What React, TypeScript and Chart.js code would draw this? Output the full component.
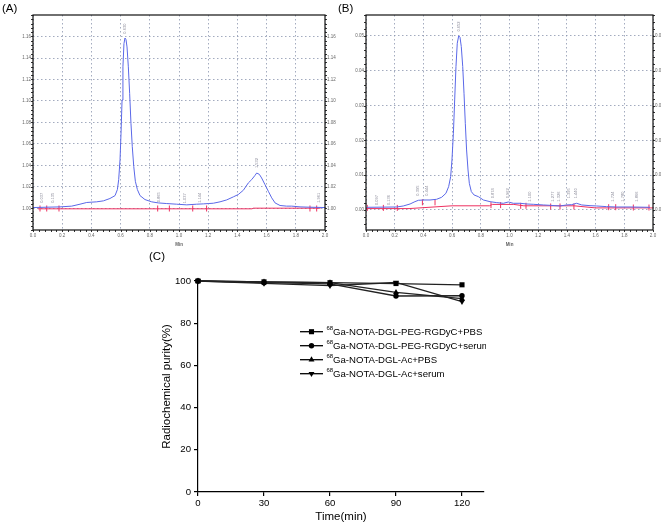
import React, { useEffect, useRef } from 'react';
import { Chart, registerables } from 'chart.js';

Chart.register(...registerables);

const FONT = '"Liberation Sans", Arial, Helvetica, sans-serif';

// ---------------- Panel A : chromatogram ----------------
const aTime = [0.002, 0.185, 0.265, 0.322, 0.368, 0.436, 0.482, 0.527, 0.562, 0.578, 0.587, 0.596, 0.603, 0.61, 0.616, 0.623, 0.63, 0.637, 0.644, 0.653, 0.662, 0.671, 0.68, 0.69, 0.701, 0.715, 0.733, 0.767, 0.813, 0.858, 0.916, 0.984, 1.053, 1.121, 1.167, 1.201, 1.235, 1.281, 1.327, 1.372, 1.406, 1.441, 1.475, 1.498, 1.521, 1.532, 1.55, 1.566, 1.589, 1.612, 1.635, 1.658, 1.692, 1.737, 1.772, 1.829, 1.897, 2.0];
const aSignal = [1.0009, 1.0015, 1.0022, 1.004, 1.0056, 1.0062, 1.0071, 1.0093, 1.012, 1.0176, 1.0269, 1.0454, 1.0701, 1.1009, 1.1318, 1.1534, 1.1586, 1.1571, 1.1503, 1.1318, 1.1071, 1.0793, 1.0577, 1.0392, 1.0253, 1.0176, 1.012, 1.0083, 1.0062, 1.0052, 1.0046, 1.004, 1.0034, 1.004, 1.0043, 1.0046, 1.0049, 1.0062, 1.008, 1.0108, 1.013, 1.017, 1.0238, 1.0269, 1.0309, 1.033, 1.0318, 1.0284, 1.0222, 1.016, 1.0099, 1.0052, 1.0028, 1.0022, 1.0022, 1.0015, 1.0012, 1.0009];
const aBaseTime = [0.034, 1.5, 1.51, 1.97];
const aBaseSignal = [0.9997, 0.9997, 1.0003, 1.0003];
const aMarkTime = [0.048, 0.094, 0.178, 0.854, 0.934, 1.094, 1.189, 1.897, 1.943];
const aMarkSignal = [1.0, 1.0, 1.0, 1.0, 1.0, 1.0, 1.0, 1.0, 1.0];
const aPeakTime = [0.059, 0.139, 0.63, 0.865, 1.037, 1.144, 1.532, 1.961];
const aPeakLevel = [1.0099, 1.0099, 1.1673, 1.0105, 1.0095, 1.0099, 1.0423, 1.0099];
const aPeakText = ['0.037', '0.135', '0.630', '0.865', '1.037', '1.144', '1.532', '1.961'];
const aYTicks = [1.0, 1.02, 1.04, 1.06, 1.08, 1.1, 1.12, 1.14, 1.16];
const aXTicks = [0, 0.2, 0.4, 0.6, 0.8, 1.0, 1.2, 1.4, 1.6, 1.8, 2.0];

// ---------------- Panel B : chromatogram ----------------
const bTime = [0.005, 0.214, 0.26, 0.307, 0.341, 0.365, 0.4, 0.446, 0.492, 0.527, 0.557, 0.576, 0.59, 0.599, 0.609, 0.618, 0.627, 0.636, 0.646, 0.655, 0.664, 0.674, 0.683, 0.692, 0.701, 0.711, 0.72, 0.734, 0.753, 0.783, 0.818, 0.864, 0.911, 0.957, 0.992, 1.027, 1.073, 1.12, 1.166, 1.236, 1.282, 1.352, 1.398, 1.433, 1.468, 1.503, 1.561, 1.607, 1.677, 1.747, 1.84, 1.979];
const bSignal = [0.00077, 0.00086, 0.00115, 0.00172, 0.00239, 0.00278, 0.00287, 0.00287, 0.00307, 0.00364, 0.00479, 0.0067, 0.00958, 0.01437, 0.02203, 0.03161, 0.04119, 0.04789, 0.05, 0.04962, 0.04693, 0.04119, 0.03353, 0.0249, 0.01724, 0.01149, 0.00766, 0.00527, 0.00431, 0.00383, 0.00287, 0.00239, 0.00211, 0.00192, 0.0023, 0.00192, 0.00192, 0.00172, 0.00163, 0.00144, 0.00134, 0.00115, 0.00144, 0.00153, 0.00192, 0.00144, 0.00124, 0.00115, 0.00096, 0.00086, 0.00086, 0.00077];
const bBaseTime = [0.0, 0.3, 0.6, 0.86, 0.88, 1.03, 1.1, 1.45, 1.6, 2.0];
const bBaseSignal = [0.0004, 0.0004, 0.0012, 0.0012, 0.0016, 0.0016, 0.0012, 0.0012, 0.0006, 0.0006];
const bMarkTime = [0.009, 0.121, 0.218, 0.393, 0.481, 0.871, 0.938, 1.078, 1.115, 1.287, 1.352, 1.449, 1.691, 1.74, 1.863, 1.972];
const bMarkSignal = [0.0006, 0.0006, 0.0006, 0.0022, 0.0022, 0.0014, 0.0014, 0.0012, 0.0012, 0.001, 0.001, 0.001, 0.0008, 0.0008, 0.0007, 0.0007];
const bPeakTime = [0.074, 0.163, 0.365, 0.423, 0.65, 0.887, 0.987, 1.143, 1.301, 1.347, 1.417, 1.463, 1.719, 1.789, 1.886];
const bPeakLevel = [0.00287, 0.00287, 0.00556, 0.00556, 0.0527, 0.00479, 0.00479, 0.00383, 0.00383, 0.00383, 0.00479, 0.00479, 0.00383, 0.00383, 0.00383];
const bPeakText = ['0.097', '0.136', '0.395', '0.444', '0.652', '0.874', '0.962', '1.100', '1.277', '1.326', '1.395', '1.440', '1.724', '1.780', '1.866'];
const bYTicks = [0.0, 0.01, 0.02, 0.03, 0.04, 0.05];
const bXTicks = [0, 0.2, 0.4, 0.6, 0.8, 1.0, 1.2, 1.4, 1.6, 1.8, 2.0];

// ---------------- Panel C : stability ----------------
const cTime = [0, 30, 60, 90, 120];
const cRgdPbs = [100, 99.6, 99.2, 98.8, 98.2];
const cRgdSerum = [100, 99.2, 98.6, 92.9, 93.0];
const cAcPbs = [100, 99.6, 99.2, 94.6, 91.6];
const cAcSerum = [100, 98.9, 97.8, 99.3, 90.2];
const cIsotope = '68';
const cLegend = ['Ga-NOTA-DGL-PEG-RGDyC+PBS', 'Ga-NOTA-DGL-PEG-RGDyC+serum', 'Ga-NOTA-DGL-Ac+PBS', 'Ga-NOTA-DGL-Ac+serum'];
const cYTicks = [0, 20, 40, 60, 80, 100];
const cXTicks = [0, 30, 60, 90, 120];

type Pt = { x: number; y: number };
const zip = (xs: number[], ys: number[]): Pt[] => xs.map((x, i) => ({ x, y: ys[i] }));

const BLUE = '#5a68e8';
const RED = '#ee3060';
const GRID = 'rgba(140,150,175,0.8)';

function framePlugin(xMinor: number, yMinor: number) {
  return {
    id: 'frame',
    afterDatasetsDraw(chart: any) {
      const { ctx, chartArea } = chart;
      const { left, top, right, bottom } = chartArea;
      const xs = chart.scales.x;
      const ys = chart.scales.y;
      ctx.save();
      ctx.strokeStyle = '#333';
      ctx.lineWidth = 1;
      ctx.beginPath();
      const x0 = Math.ceil(xs.min / xMinor - 1e-6) * xMinor;
      for (let v = x0; v <= xs.max + 1e-9; v += xMinor) {
        const p = Math.round(xs.getPixelForValue(v)) + 0.5;
        ctx.moveTo(p, bottom);
        ctx.lineTo(p, bottom + 2);
      }
      const y0 = Math.ceil(ys.min / yMinor - 1e-6) * yMinor;
      for (let v = y0; v <= ys.max + 1e-12; v += yMinor) {
        const p = Math.round(ys.getPixelForValue(v)) + 0.5;
        ctx.moveTo(left, p);
        ctx.lineTo(left - 2, p);
        ctx.moveTo(right, p);
        ctx.lineTo(right + 2, p);
      }
      ctx.stroke();
      ctx.strokeStyle = '#111';
      ctx.lineWidth = 1.2;
      ctx.strokeRect(left, top, right - left, bottom - top);
      ctx.restore();
    },
  };
}

function peakTextPlugin(times: number[], levels: number[], texts: string[]) {
  return {
    id: 'peakText',
    afterDatasetsDraw(chart: any) {
      const { ctx } = chart;
      const xs = chart.scales.x;
      const ys = chart.scales.y;
      ctx.save();
      ctx.fillStyle = '#8a8a99';
      ctx.font = `4px ${FONT}`;
      ctx.textAlign = 'center';
      ctx.textBaseline = 'middle';
      times.forEach((t, i) => {
        ctx.save();
        ctx.translate(xs.getPixelForValue(t), ys.getPixelForValue(levels[i]));
        ctx.rotate(-Math.PI / 2);
        ctx.fillText(texts[i], 0, 0);
        ctx.restore();
      });
      ctx.restore();
    },
  };
}

interface ChromSpec {
  trace: Pt[];
  base: Pt[];
  marks: Pt[];
  peakTime: number[];
  peakLevel: number[];
  peakText: string[];
  yMin: number;
  yMax: number;
  yTicks: number[];
  xTicks: number[];
  leftW: number;
  rightW: number;
  yMinor: number;
}

function chromConfig(s: ChromSpec): any {
  const tickFont = { size: 4.5, family: FONT };
  const yCommon = {
    type: 'linear',
    min: s.yMin,
    max: s.yMax,
    afterBuildTicks: (sc: any) => {
      sc.ticks = s.yTicks.map((v) => ({ value: v }));
    },
    ticks: { font: tickFont, color: '#666', padding: 2, callback: (v: any) => Number(v).toFixed(2) },
    border: { display: false, dash: [1.5, 2.5] },
  };
  return {
    type: 'scatter',
    data: {
      datasets: [
        { data: s.trace, showLine: true, borderColor: BLUE, borderWidth: 1, pointRadius: 0, tension: 0 },
        { data: s.base, showLine: true, borderColor: RED, borderWidth: 1, pointRadius: 0, tension: 0 },
        {
          data: s.marks,
          showLine: false,
          pointStyle: 'line',
          rotation: 90,
          radius: 3,
          borderColor: RED,
          borderWidth: 1,
        },
      ],
    },
    options: {
      animation: false,
      responsive: false,
      devicePixelRatio: 1,
      events: [],
      layout: { padding: { top: 15, left: 0, right: 0, bottom: 0 } },
      plugins: { legend: { display: false }, tooltip: { enabled: false } },
      scales: {
        x: {
          type: 'linear',
          position: 'bottom',
          min: 0,
          max: 2,
          afterBuildTicks: (sc: any) => {
            sc.ticks = s.xTicks.map((v) => ({ value: v }));
          },
          afterFit: (sc: any) => {
            sc.height = 20;
          },
          ticks: { font: tickFont, color: '#666', padding: 3, maxRotation: 0, autoSkip: false, callback: (v: any) => Number(v).toFixed(1) },
          grid: { color: GRID, lineWidth: 1, drawTicks: false },
          border: { display: false, dash: [1.5, 2.5] },
          title: { display: true, text: 'Min', font: { size: 4.5, family: FONT, weight: 'bold' }, color: '#666', padding: { top: 0, bottom: 3 } },
        },
        y: {
          ...yCommon,
          position: 'left',
          afterFit: (sc: any) => {
            sc.width = s.leftW;
          },
          grid: { color: GRID, lineWidth: 1, drawTicks: false },
        },
        y2: {
          ...yCommon,
          position: 'right',
          afterFit: (sc: any) => {
            sc.width = s.rightW;
          },
          grid: { drawOnChartArea: false, drawTicks: false },
        },
      },
    },
    plugins: [framePlugin(0.04, s.yMinor), peakTextPlugin(s.peakTime, s.peakLevel, s.peakText)],
  };
}

function drawMarker(ctx: CanvasRenderingContext2D, style: string, x: number, y: number, r: number, rot: number) {
  ctx.beginPath();
  if (style === 'rect') {
    const h = Math.SQRT1_2 * r;
    ctx.rect(x - h, y - h, 2 * h, 2 * h);
  } else if (style === 'circle') {
    ctx.arc(x, y, r, 0, Math.PI * 2);
  } else {
    let rad = (rot * Math.PI) / 180;
    ctx.moveTo(x + Math.sin(rad) * r, y - Math.cos(rad) * r);
    rad += (2 * Math.PI) / 3;
    ctx.lineTo(x + Math.sin(rad) * r, y - Math.cos(rad) * r);
    rad += (2 * Math.PI) / 3;
    ctx.lineTo(x + Math.sin(rad) * r, y - Math.cos(rad) * r);
    ctx.closePath();
  }
  ctx.fill();
}

const C_STYLES = [
  { style: 'rect', r: 3.6, rot: 0 },
  { style: 'circle', r: 2.7, rot: 0 },
  { style: 'triangle', r: 3.4, rot: 0 },
  { style: 'triangle', r: 3.4, rot: 180 },
];

const legendPlugin = {
  id: 'cLegend',
  afterDraw(chart: any) {
    const { ctx } = chart;
    ctx.save();
    ctx.beginPath();
    ctx.rect(0, 0, 336, chart.height);
    ctx.clip();
    cLegend.forEach((label, i) => {
      const y = 81.7 + i * 14;
      ctx.strokeStyle = '#000';
      ctx.fillStyle = '#000';
      ctx.lineWidth = 1.3;
      ctx.beginPath();
      ctx.moveTo(150, y);
      ctx.lineTo(173, y);
      ctx.stroke();
      const st = C_STYLES[i];
      drawMarker(ctx, st.style, 161.5, y, st.r, st.rot);
      ctx.textBaseline = 'middle';
      ctx.textAlign = 'left';
      ctx.font = `6px ${FONT}`;
      ctx.fillText(cIsotope, 176.5, y - 3.5);
      ctx.font = `9.6px ${FONT}`;
      ctx.fillText(label, 183, y + 0.5);
    });
    ctx.restore();
  },
};

function stabilityConfig(): any {
  const series = [cRgdPbs, cRgdSerum, cAcPbs, cAcSerum];
  return {
    type: 'scatter',
    data: {
      datasets: series.map((vals, i) => ({
        data: zip(cTime, vals),
        showLine: true,
        borderColor: '#222',
        backgroundColor: '#000',
        borderWidth: 1.3,
        pointStyle: C_STYLES[i].style,
        pointRadius: C_STYLES[i].r,
        pointRotation: C_STYLES[i].rot,
        pointBorderWidth: 0,
        pointBackgroundColor: '#000',
        tension: 0,
        clip: false,
      })),
    },
    options: {
      animation: false,
      responsive: false,
      devicePixelRatio: 1,
      events: [],
      layout: { padding: { top: 31, left: 0, right: 177, bottom: 0 } },
      plugins: { legend: { display: false }, tooltip: { enabled: false } },
      scales: {
        x: {
          type: 'linear',
          min: 0,
          max: 130,
          afterBuildTicks: (sc: any) => {
            sc.ticks = cXTicks.map((v) => ({ value: v }));
          },
          afterFit: (sc: any) => {
            sc.height = 34;
          },
          ticks: { font: { size: 9.6, family: FONT }, color: '#000', padding: 2, maxRotation: 0, autoSkip: false },
          grid: { drawOnChartArea: false, drawTicks: true, tickLength: 4, color: '#000', lineWidth: 1.2 },
          border: { display: true, color: '#000', width: 1.2 },
          title: { display: true, text: 'Time(min)', font: { size: 11.5, family: FONT }, color: '#000', padding: { top: 0, bottom: 2 } },
        },
        y: {
          type: 'linear',
          min: 0,
          max: 100,
          afterBuildTicks: (sc: any) => {
            sc.ticks = cYTicks.map((v) => ({ value: v }));
          },
          afterFit: (sc: any) => {
            sc.width = 48;
          },
          ticks: { font: { size: 9.6, family: FONT }, color: '#000', padding: 3 },
          grid: { drawOnChartArea: false, drawTicks: true, tickLength: 4, color: '#000', lineWidth: 1.2 },
          border: { display: true, color: '#000', width: 1.2 },
          title: { display: true, text: 'Radiochemical purity(%)', font: { size: 11.5, family: FONT }, color: '#000', padding: { top: 10, bottom: 0 } },
        },
      },
    },
    plugins: [legendPlugin],
  };
}

function ChartCanvas({ make, width, height, style }: { make: () => any; width: number; height: number; style: React.CSSProperties }) {
  const ref = useRef<HTMLCanvasElement | null>(null);
  useEffect(() => {
    if (!ref.current) return;
    const chart = new Chart(ref.current, make());
    return () => chart.destroy();
  }, []);
  return <canvas ref={ref} width={width} height={height} style={{ position: 'absolute', width, height, ...style }} />;
}

const labelStyle: React.CSSProperties = {
  position: 'absolute',
  fontFamily: FONT,
  fontSize: '11.5px',
  lineHeight: '12px',
  color: '#000',
  zIndex: 2,
};

export default function App() {
  return (
    <div style={{ position: 'absolute', left: 0, top: 0, width: 661, height: 526, background: '#fff', overflow: 'hidden' }}>
      <ChartCanvas
        width={340}
        height={250}
        style={{ left: 0, top: 0 }}
        make={() =>
          chromConfig({
            trace: zip(aTime, aSignal),
            base: zip(aBaseTime, aBaseSignal),
            marks: zip(aMarkTime, aMarkSignal),
            peakTime: aPeakTime,
            peakLevel: aPeakLevel,
            peakText: aPeakText,
            yMin: 0.98,
            yMax: 1.18,
            yTicks: aYTicks,
            xTicks: aXTicks,
            leftW: 33,
            rightW: 15,
            yMinor: 0.004,
          })
        }
      />
      <ChartCanvas
        width={321}
        height={250}
        style={{ left: 340, top: 0 }}
        make={() =>
          chromConfig({
            trace: zip(bTime, bSignal),
            base: zip(bBaseTime, bBaseSignal),
            marks: zip(bMarkTime, bMarkSignal),
            peakTime: bPeakTime,
            peakLevel: bPeakLevel,
            peakText: bPeakText,
            yMin: -0.00575,
            yMax: 0.056,
            yTicks: bYTicks,
            xTicks: bXTicks,
            leftW: 26,
            rightW: 8,
            yMinor: 0.002,
          })
        }
      />
      <ChartCanvas width={511} height={276} style={{ left: 150, top: 250 }} make={stabilityConfig} />
      <div style={{ ...labelStyle, left: 2, top: 2 }}>(A)</div>
      <div style={{ ...labelStyle, left: 338, top: 2 }}>(B)</div>
      <div style={{ ...labelStyle, left: 149, top: 250 }}>(C)</div>
    </div>
  );
}
